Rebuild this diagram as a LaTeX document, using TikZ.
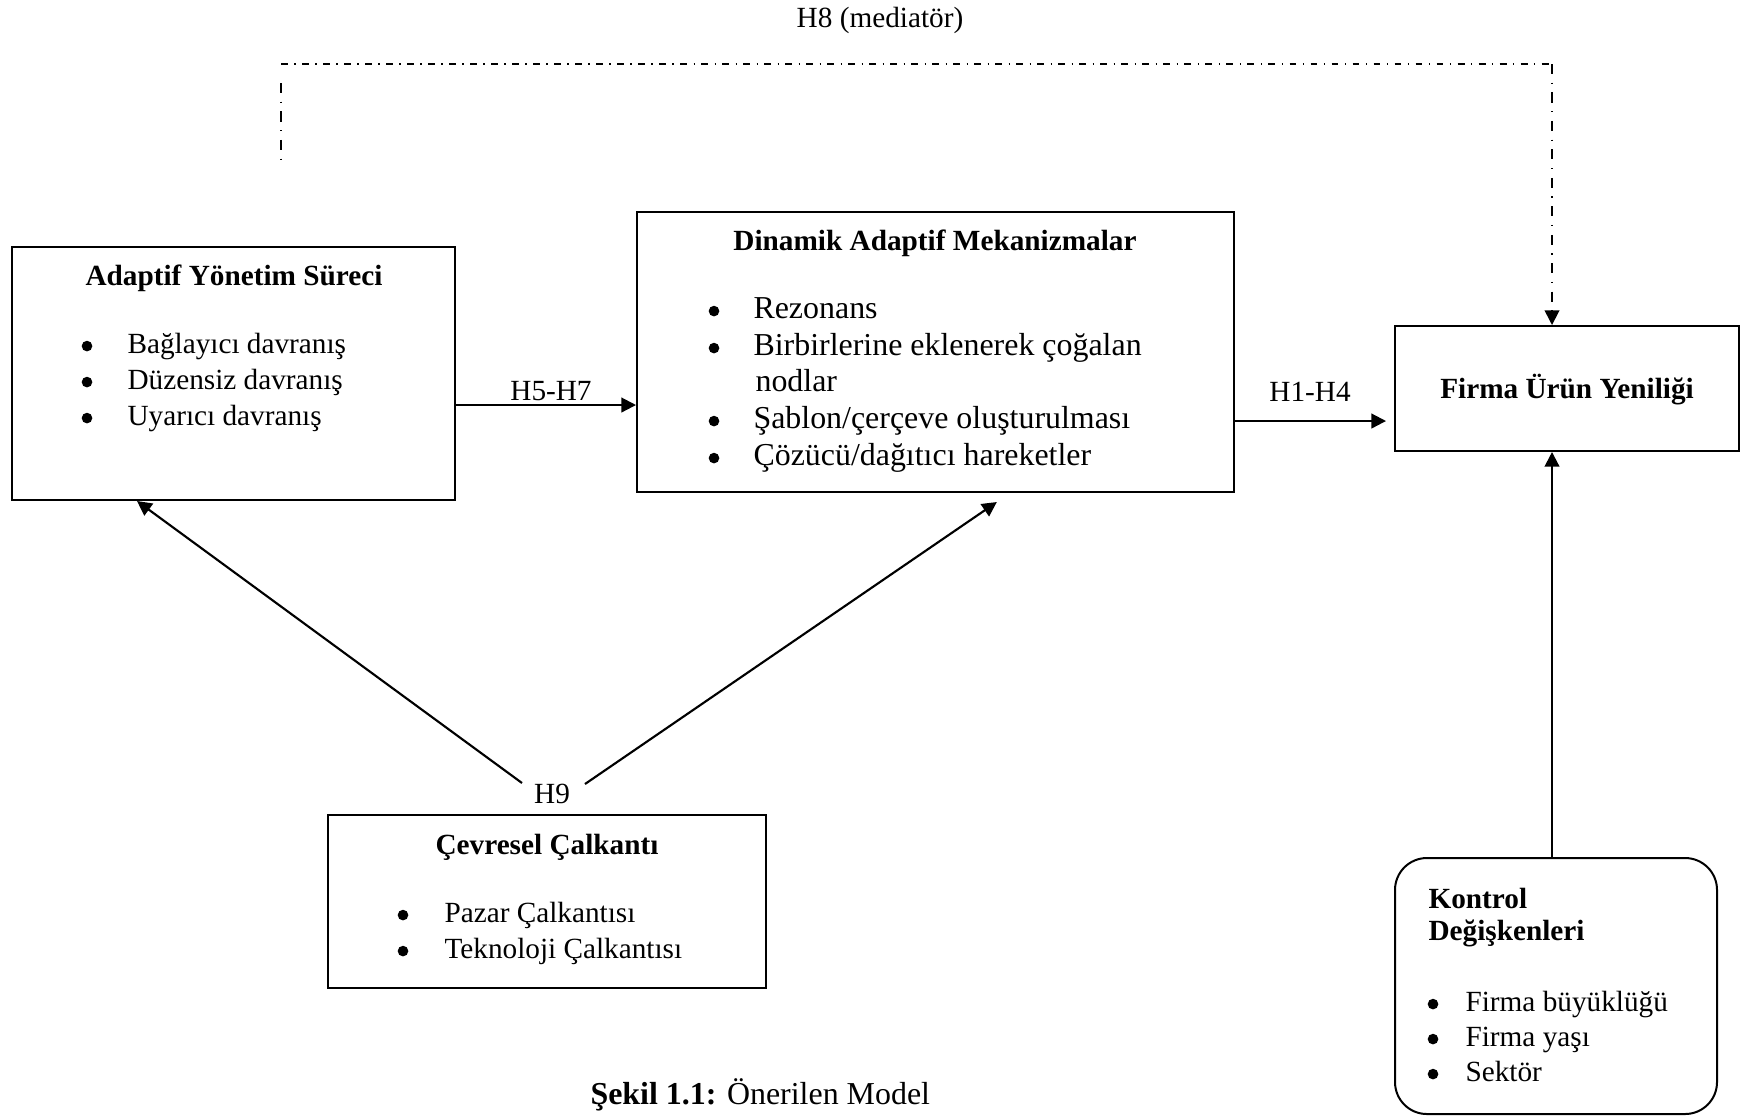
\documentclass[tikz,border=0pt]{standalone}
\usepackage{fontspec}
\setmainfont{Liberation Serif}
\usetikzlibrary{arrows.meta,fit}
\begin{document}
\begin{tikzpicture}[x=0.376pt,y=-0.376pt,
  box/.style={draw,line width=0.75pt,inner sep=0pt},
  rbox/.style={box,rounded corners=12pt},
  tip/.style={-{Triangle[length=5.5pt,width=5.5pt]}},
  arr/.style={line width=0.8pt,tip},
  ttl/.style={font=\fontsize{11}{13}\selectfont\bfseries,anchor=mid,inner sep=0pt,yshift=-1pt},
  ttlw/.style={font=\fontsize{11}{13}\selectfont\bfseries,anchor=mid west,inner sep=0pt,yshift=-1pt},
  itm/.style={font=\fontsize{11}{13}\selectfont,anchor=mid west,inner sep=0pt,yshift=-1pt},
  itmL/.style={font=\fontsize{12}{14}\selectfont,anchor=mid west,inner sep=0pt,yshift=-1pt},
  bul/.style={circle,fill,inner sep=0pt,minimum size=4pt,yshift=-0.4pt},
  lbl/.style={font=\fontsize{11}{13}\selectfont,anchor=mid,inner sep=0pt,yshift=-1pt},
  hdd/.style={line width=0.65pt,dash pattern=on 2.6pt off 2.4pt on 0.5pt off 2.4pt},
  vdd/.style={line width=0.65pt,dash pattern=on 3.8pt off 3.2pt on 0.5pt off 3.2pt},
]
\useasboundingbox (0,0) rectangle (1756,1118);

% boxes
\node[box,fit={(12,247)(455,500)}] (ays) {};
\node[box,fit={(637,212)(1234,492)}] (dam) {};
\node[box,fit={(1395,326)(1739,451)}] (fpi) {};
\node[box,fit={(328,815)(766,988)}] (cev) {};
\node[rbox,fit={(1395,858)(1717,1114)}] (kon) {};

% Adaptif Yonetim Sureci
\node[ttl] (t1) at (234,277) {Adaptif Yönetim Süreci};
\node[bul] (b11) at (87,345) {}; \node[itm] (i11) at (127,345) {Bağlayıcı davranış};
\node[bul] (b12) at (87,381) {}; \node[itm] (i12) at (127,381) {Düzensiz davranış};
\node[bul] (b13) at (87,417) {}; \node[itm] (i13) at (127,417) {Uyarıcı davranış};

% Dinamik Adaptif Mekanizmalar
\node[ttl] (t2) at (935,242) {Dinamik Adaptif Mekanizmalar};
\node[bul] (b21) at (714,310) {}; \node[itmL] (i21) at (753,310) {Rezonans};
\node[bul] (b22) at (714,347) {}; \node[itmL] (i22) at (753,347) {Birbirlerine eklenerek çoğalan};
\node[itmL] (i22b) at (755,383) {nodlar};
\node[bul] (b23) at (714,420) {}; \node[itmL] (i23) at (753,420) {Şablon/çerçeve oluşturulması};
\node[bul] (b24) at (714,457) {}; \node[itmL] (i24) at (753,457) {Çözücü/dağıtıcı hareketler};

% Firma Urun Yeniligi
\node[ttl] (t3) at (1567,390) {Firma Ürün Yeniliği};

% Cevresel Calkanti
\node[ttl] (t4) at (547,846) {Çevresel Çalkantı};
\node[bul] (b41) at (403,914) {}; \node[itm] (i41) at (444,914) {Pazar Çalkantısı};
\node[bul] (b42) at (403,950) {}; \node[itm] (i42) at (444,950) {Teknoloji Çalkantısı};

% Kontrol Degiskenleri
\node[ttlw] (t5a) at (1428,900) {Kontrol};
\node[ttlw] (t5b) at (1428,932) {Değişkenleri};
\node[bul] (b51) at (1433,1003) {}; \node[itm] (i51) at (1465,1003) {Firma büyüklüğü};
\node[bul] (b52) at (1433,1038) {}; \node[itm] (i52) at (1465,1038) {Firma yaşı};
\node[bul] (b53) at (1433,1073) {}; \node[itm] (i53) at (1465,1073) {Sektör};

% labels
\node[lbl] (h8) at (880,19) {H8 (mediatör)};
\node[lbl] (h57) at (551,392) {H5-H7};
\node[lbl] (h14) at (1310,393) {H1-H4};
\node[lbl] (h9) at (552,795) {H9};
\node[itmL] (cap) at (590,1096) {\textbf{Şekil 1.1:} Önerilen Model};

% connectors
\coordinate (p57) at (0,405);
\coordinate (p14) at (0,421);
\coordinate (vx) at (1552,0);
\draw[arr] (ays.east |- p57) -- (dam.west |- p57);
\draw[arr,shorten >=3pt] (dam.east |- p14) -- (fpi.west |- p14);
\draw[arr] (kon.north -| vx) -- (fpi.south -| vx);

\coordinate (h9l) at (522,783);
\coordinate (h9r) at (585,784);
\coordinate (lt) at (137,0);
\coordinate (rt) at (1010,0);
\draw[arr] (h9l) -- (ays.south -| lt);
\draw[arr,shorten >=6pt] (h9r) -- (dam.south -| rt);

% mediator dash-dot line
\coordinate (hl) at (281,64);
\coordinate (hc) at (1552,64);
\coordinate (vl1) at (281,83);
\coordinate (vl2) at (281,164);
\draw[hdd] (hl) -- (hc);
\draw[vdd,tip] (hc) -- (fpi.north -| hc);
\draw[vdd] (vl1) -- (vl2);
\end{tikzpicture}
\end{document}
